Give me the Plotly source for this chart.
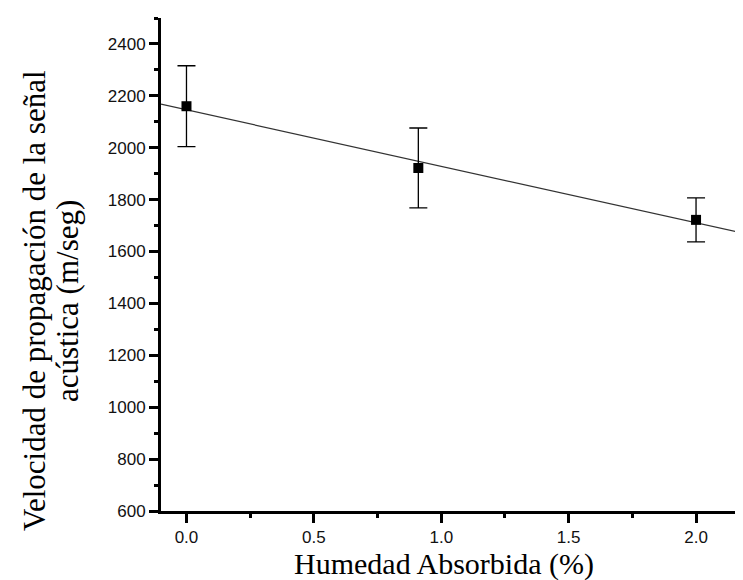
import plotly.graph_objects as go

humedad = [0.0, 0.91, 2.0]
velocidad = [2160, 1922, 1722]
error = [156, 154, 85]

fit_x = [-0.1, 2.2]
fit_y = [2168, 1667]

x_ticks = [0.0, 0.5, 1.0, 1.5, 2.0]
x_tick_labels = ["0.0", "0.5", "1.0", "1.5", "2.0"]
y_ticks = [600, 800, 1000, 1200, 1400, 1600, 1800, 2000, 2200, 2400]

x_title = "Humedad Absorbida (%)"
y_title_lines = ["Velocidad de propagación de la señal", "acústica (m/seg)"]

serif = "Liberation Serif, Times New Roman, serif"

fig = go.Figure()
fig.add_trace(go.Scatter(x=fit_x, y=fit_y, mode="lines",
                         line=dict(color="#333333", width=1.2),
                         showlegend=False, hoverinfo="skip"))
fig.add_trace(go.Scatter(x=humedad, y=velocidad, mode="markers",
                         marker=dict(symbol="square", size=10, color="black"),
                         error_y=dict(type="data", array=error, visible=True,
                                      color="black", thickness=1.3, width=9),
                         showlegend=False))

axis_font = dict(family="Liberation Sans, Arial", size=17, color="#111111")
fig.update_layout(
    width=743, height=580,
    margin=dict(l=153, r=4, t=10, b=77),
    plot_bgcolor="white", paper_bgcolor="white",
    xaxis=dict(range=[-0.1, 2.2], tickvals=x_ticks, ticktext=x_tick_labels,
               showline=True, linecolor="black", linewidth=3,
               ticks="outside", ticklen=9, tickwidth=3, tickcolor="black",
               minor=dict(dtick=0.25, tick0=0, ticks="outside", ticklen=4,
                          tickwidth=3, tickcolor="black"),
               showgrid=False, zeroline=False, tickfont=axis_font),
    yaxis=dict(range=[600, 2500], tickvals=y_ticks,
               showline=True, linecolor="black", linewidth=3,
               ticks="outside", ticklen=9, tickwidth=3, tickcolor="black",
               minor=dict(dtick=100, tick0=0, ticks="outside", ticklen=4,
                          tickwidth=3, tickcolor="black"),
               showgrid=False, zeroline=False, tickfont=axis_font),
    annotations=[
        dict(text=y_title_lines[0], xref="paper", yref="paper", x=0, y=0.426,
             xanchor="center", yanchor="middle", xshift=-126, textangle=-90,
             showarrow=False, font=dict(family=serif, size=31, color="black")),
        dict(text=y_title_lines[1], xref="paper", yref="paper", x=0, y=0.426,
             xanchor="center", yanchor="middle", xshift=-93, textangle=-90,
             showarrow=False, font=dict(family=serif, size=31, color="black")),
        dict(text=x_title, xref="paper", yref="paper", x=0.483, y=0,
             xanchor="center", yanchor="middle", yshift=-53,
             showarrow=False, font=dict(family=serif, size=30, color="black")),
    ],
)

fig.write_html("out.html")
